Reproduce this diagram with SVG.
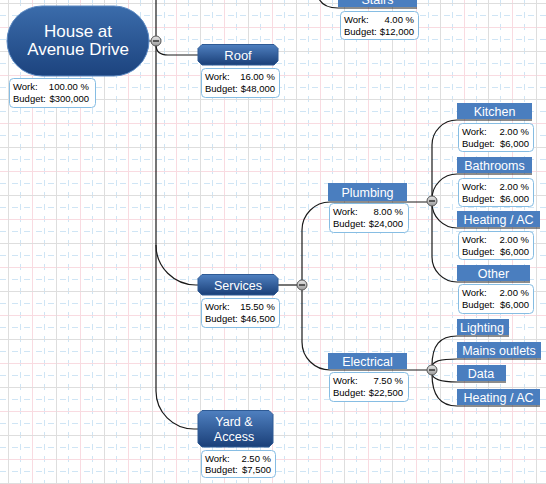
<svg xmlns="http://www.w3.org/2000/svg" width="546" height="484" viewBox="0 0 546 484">
<style>
.ln{fill:none;stroke:#1a1a1a;stroke-width:1.2}
.tl{font-family:"Liberation Sans",Arial,sans-serif;fill:#fff;text-anchor:middle}
.ib{fill:#fff;stroke:#86bde3;stroke-width:1}
.it{font-family:"Liberation Sans",Arial,sans-serif;font-size:9.5px;fill:#000}
.iv{font-family:"Liberation Sans",Arial,sans-serif;font-size:9.5px;fill:#000;text-anchor:end}
.flat{fill:#4a7ebf}
.main{fill:url(#mg);stroke:#2e5a94;stroke-width:1}
.cc{fill:url(#cg);stroke:#555;stroke-width:1}
.mn{stroke:#111;stroke-width:1.2}
</style>
<defs>
<linearGradient id="mg" x1="0" y1="0" x2="0" y2="1">
<stop offset="0" stop-color="#4f80c0"/>
<stop offset="1" stop-color="#1a3f78"/>
</linearGradient>
<linearGradient id="rg" x1="0" y1="0" x2="0" y2="1">
<stop offset="0" stop-color="#3b6cab"/>
<stop offset="1" stop-color="#1c437e"/>
</linearGradient>
<linearGradient id="cg" x1="0" y1="0" x2="0" y2="1">
<stop offset="0" stop-color="#e8e8e8"/>
<stop offset="1" stop-color="#9a9a9a"/>
</linearGradient>
<pattern id="grid" patternUnits="userSpaceOnUse" width="48" height="48">
<rect width="48" height="48" fill="#fff"/>
<path d="M20.5,0V48M44.5,0V48M0,15.5H48M0,39.5H48" stroke="#cfe5f5" stroke-width="1" stroke-dasharray="6,6" fill="none"/>
<path d="M32.5,0V48M0,27.5H48" stroke="#f9dbe1" stroke-width="1" fill="none"/>
<path d="M8.5,0V48M0,3.5H48" stroke="#dedede" stroke-width="1" fill="none"/>
</pattern>
</defs>
<rect width="546" height="484" fill="url(#grid)"/>

<g id="connectors">
<path class="ln" d="M156,0V391A38,38 0 0 0 194,429H198"/>
<path class="ln" d="M156,45Q156,55 168,55H198"/>
<path class="ln" d="M149,41H151"/>
<path class="ln" d="M156,245A40,40 0 0 0 196,285H198"/>
<path class="ln" d="M278,285H297"/>
<path class="ln" d="M317,-8Q319,8 338,8H417"/>
<path class="ln" d="M302,280V230A28,28 0 0 1 330,202H427"/>
<path class="ln" d="M302,290V342A28,28 0 0 0 330,370H427"/>
<path class="ln" d="M432,196V145A25,25 0 0 1 457,120H532"/>
<path class="ln" d="M432,199A25,25 0 0 1 457,174H532"/>
<path class="ln" d="M432,203A25,25 0 0 0 457,228H540"/>
<path class="ln" d="M432,206V257A25,25 0 0 0 457,282H530"/>
<path class="ln" d="M432,366C432,345 440,336 457,336H509"/>
<path class="ln" d="M432,367C432,361 440,359 457,359H541"/>
<path class="ln" d="M432,373C432,379 440,382 457,382H506"/>
<path class="ln" d="M432,374C432,395 440,406 457,406H540"/>
</g>

<g id="root">
<rect x="7" y="6" width="142" height="70" rx="35" fill="url(#rg)" stroke="#5a88c2" stroke-width="1"/>
<text class="tl" x="78" y="37" font-size="17">House at</text>
<text class="tl" x="78" y="54.5" font-size="17">Avenue Drive</text>
<rect class="ib" x="9.5" y="78.5" width="86" height="29" rx="4"/>
<text class="it" x="13" y="90">Work:</text><text class="iv" x="89" y="90">100.00 %</text>
<text class="it" x="13" y="102">Budget:</text><text class="iv" x="89" y="102">$300,000</text>
<circle class="cc" cx="156" cy="41" r="5"/><path class="mn" d="M153,41H159"/>
</g>

<g id="stairs">
<rect class="flat" x="338" y="-10" width="79" height="17"/>
<text class="tl" x="377.5" y="4" font-size="12.5">Stairs</text>
<rect class="ib" x="340.5" y="11.5" width="78" height="28" rx="4"/>
<text class="it" x="344" y="22.5">Work:</text><text class="iv" x="414" y="22.5">4.00 %</text>
<text class="it" x="344" y="34.5">Budget:</text><text class="iv" x="414" y="34.5">$12,000</text>
</g>

<g id="roof">
<path class="main" d="M202,44.5H274L278,48.5V61L274,65H202L198,61V48.5Z"/>
<text class="tl" x="238" y="59.5" font-size="13">Roof</text>
<rect class="ib" x="201.5" y="68.5" width="78" height="29" rx="4"/>
<text class="it" x="205" y="80">Work:</text><text class="iv" x="275" y="80">16.00 %</text>
<text class="it" x="205" y="92">Budget:</text><text class="iv" x="275" y="92">$48,000</text>
</g>

<g id="services">
<path class="main" d="M202,274.5H274L278,278.5V291L274,295H202L198,291V278.5Z"/>
<text class="tl" x="238" y="290" font-size="12.5">Services</text>
<rect class="ib" x="201.5" y="298.5" width="78" height="29" rx="4"/>
<text class="it" x="205" y="310">Work:</text><text class="iv" x="275" y="310">15.50 %</text>
<text class="it" x="205" y="322">Budget:</text><text class="iv" x="275" y="322">$46,500</text>
<circle class="cc" cx="302" cy="285" r="5"/><path class="mn" d="M299,285H305"/>
</g>

<g id="yard">
<path class="main" d="M202,410.5H269L273,414.5V443L269,447H202L198,443V414.5Z"/>
<text class="tl" x="234" y="426" font-size="12.5">Yard &amp;</text>
<text class="tl" x="234" y="441" font-size="12.5">Access</text>
<rect class="ib" x="201.5" y="450.5" width="74" height="27" rx="4"/>
<text class="it" x="205" y="461.5">Work:</text><text class="iv" x="271" y="461.5">2.50 %</text>
<text class="it" x="205" y="473">Budget:</text><text class="iv" x="271" y="473">$7,500</text>
</g>

<g id="plumbing">
<rect class="flat" x="328" y="183" width="79" height="18"/>
<text class="tl" x="367.5" y="196.5" font-size="12.5">Plumbing</text>
<rect class="ib" x="329.5" y="203.5" width="79" height="29" rx="4"/>
<text class="it" x="333" y="215">Work:</text><text class="iv" x="403" y="215">8.00 %</text>
<text class="it" x="333" y="227">Budget:</text><text class="iv" x="403" y="227">$24,000</text>
<circle class="cc" cx="432" cy="201" r="5"/><path class="mn" d="M429,201H435"/>
</g>

<g id="electrical">
<rect class="flat" x="328" y="353" width="79" height="16"/>
<text class="tl" x="367.5" y="366" font-size="12.5">Electrical</text>
<rect class="ib" x="329.5" y="372.5" width="79" height="29" rx="4"/>
<text class="it" x="333" y="384">Work:</text><text class="iv" x="403" y="384">7.50 %</text>
<text class="it" x="333" y="396">Budget:</text><text class="iv" x="403" y="396">$22,500</text>
<circle class="cc" cx="432" cy="370" r="5"/><path class="mn" d="M429,370H435"/>
</g>

<g id="kitchen">
<rect class="flat" x="457" y="103" width="75" height="16"/>
<text class="tl" x="494.5" y="116" font-size="12.5">Kitchen</text>
<rect class="ib" x="458.5" y="123.5" width="75" height="28" rx="4"/>
<text class="it" x="462" y="134.5">Work:</text><text class="iv" x="529" y="134.5">2.00 %</text>
<text class="it" x="462" y="146.5">Budget:</text><text class="iv" x="529" y="146.5">$6,000</text>
</g>

<g id="bathrooms">
<rect class="flat" x="457" y="157" width="75" height="16"/>
<text class="tl" x="494.5" y="170" font-size="12.5">Bathrooms</text>
<rect class="ib" x="458.5" y="178.5" width="75" height="28" rx="4"/>
<text class="it" x="462" y="189.5">Work:</text><text class="iv" x="529" y="189.5">2.00 %</text>
<text class="it" x="462" y="201.5">Budget:</text><text class="iv" x="529" y="201.5">$6,000</text>
</g>

<g id="heating1">
<rect class="flat" x="457" y="211" width="83" height="16"/>
<text class="tl" x="498.5" y="224" font-size="12.5">Heating / AC</text>
<rect class="ib" x="458.5" y="231.5" width="75" height="28" rx="4"/>
<text class="it" x="462" y="242.5">Work:</text><text class="iv" x="529" y="242.5">2.00 %</text>
<text class="it" x="462" y="254.5">Budget:</text><text class="iv" x="529" y="254.5">$6,000</text>
</g>

<g id="other">
<rect class="flat" x="457" y="265" width="73" height="16"/>
<text class="tl" x="493.5" y="278" font-size="12.5">Other</text>
<rect class="ib" x="458.5" y="284.5" width="75" height="29" rx="4"/>
<text class="it" x="462" y="296">Work:</text><text class="iv" x="529" y="296">2.00 %</text>
<text class="it" x="462" y="308">Budget:</text><text class="iv" x="529" y="308">$6,000</text>
</g>

<g id="lighting">
<rect class="flat" x="457" y="319" width="52" height="16"/>
<text class="tl" x="482" y="332" font-size="12.5">Lighting</text>
</g>
<g id="mains">
<rect class="flat" x="457" y="342" width="84" height="16"/>
<text class="tl" x="499" y="355" font-size="12.5">Mains outlets</text>
</g>
<g id="data">
<rect class="flat" x="457" y="365" width="49" height="16"/>
<text class="tl" x="481" y="378" font-size="12.5">Data</text>
</g>
<g id="heating2">
<rect class="flat" x="457" y="389" width="83" height="16"/>
<text class="tl" x="498.5" y="402" font-size="12.5">Heating / AC</text>
</g>
</svg>
